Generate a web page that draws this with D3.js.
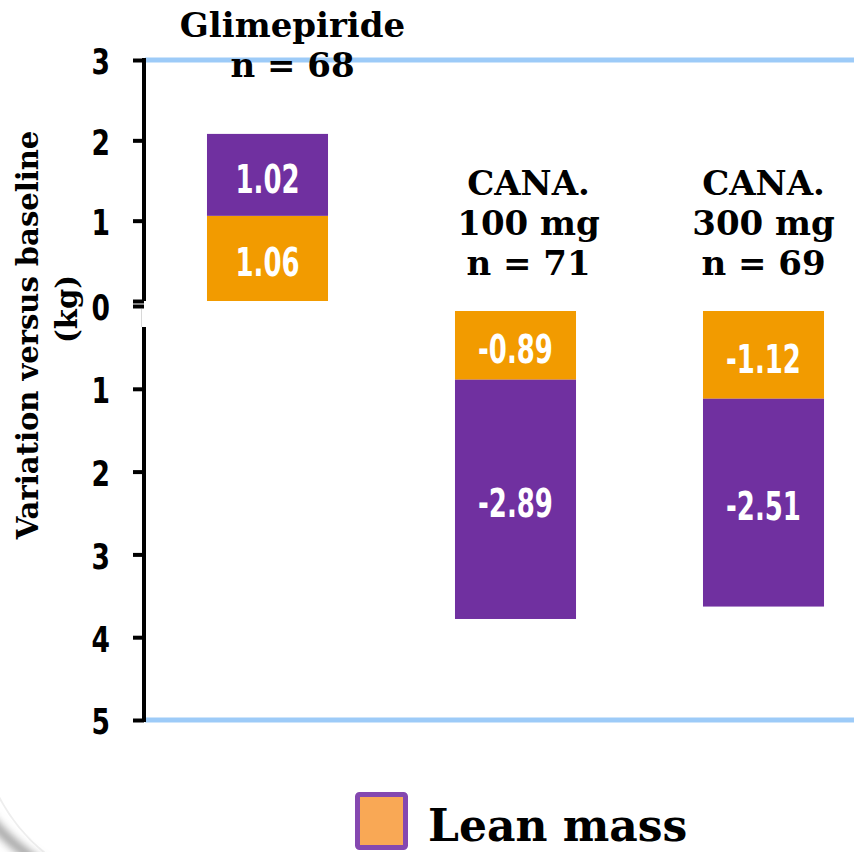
<!DOCTYPE html>
<html>
<head>
<meta charset="utf-8">
<script src="https://cdn.jsdelivr.net/npm/d3@7"></script>
<style>
  html, body { margin: 0; padding: 0; background: #fff; }
  svg { display: block; }
  .num { font-family: "Liberation Sans Narrow", "DejaVu Sans Condensed", "Roboto", sans-serif; font-weight: bold; }
  .serif { font-family: "DejaVu Serif", "Liberation Serif", serif; font-weight: bold; }
</style>
</head>
<body>
<svg id="chart" width="854" height="852"></svg>
<script>
// ---- data ----
const categories = ["Glimepiride", "CANA. 100 mg", "CANA. 300 mg"];
const categoryLines = [
  ["Glimepiride", "n = 68"],
  ["CANA.", "100 mg", "n = 71"],
  ["CANA.", "300 mg", "n = 69"]
];
const leanMass = [1.06, -0.89, -1.12];
const fatMass = [1.02, -2.89, -2.51];
const upperTicks = [0, 1, 2, 3];
const lowerTicks = [0, -1, -2, -3, -4, -5];
const legendLabels = ["Lean mass"];

// ---- layout ----
const W = 854, H = 852;
const axisX = 144;
const colors = { lean: "#F29B00", fat: "#7030A0" };
const labelShift = { "Glimepiride": 25, "CANA. 100 mg": 13, "CANA. 300 mg": 0 };
const narrowValue = 0.74;   // horizontal squeeze for the bar values
const narrowTick = 0.82;    // horizontal squeeze for the tick numbers

const svg = d3.select("#chart");
const defs = svg.append("defs");

const shadow = defs.append("filter").attr("id", "lineShadow")
  .attr("x", "-5%").attr("y", "-200%").attr("width", "110%").attr("height", "500%");
shadow.append("feDropShadow").attr("dx", 0).attr("dy", 2).attr("stdDeviation", 1.6)
  .attr("flood-color", "#000").attr("flood-opacity", 0.35);

const blur = defs.append("filter").attr("id", "soft")
  .attr("x", "-50%").attr("y", "-50%").attr("width", "200%").attr("height", "200%");
blur.append("feGaussianBlur").attr("stdDeviation", 4);

// slide edge in the lower-left corner
svg.append("path")
  .attr("d", "M -20 745 Q 0 830 70 870")
  .attr("fill", "none").attr("stroke", "#eeeeee").attr("stroke-width", 2);
svg.append("path")
  .attr("d", "M -20 805 Q 5 845 60 875")
  .attr("fill", "none").attr("stroke", "#9a9a9a").attr("stroke-width", 9)
  .attr("filter", "url(#soft)");

const x = d3.scaleBand().domain(categories)
  .range([143, 888]).paddingInner(0.512).paddingOuter(0.258);
const yUp = d3.scaleLinear().domain([0, 3]).range([301, 60]);
const yDown = d3.scaleLinear().domain([0, -5]).range([306, 720]);

// guide lines at the ends of both scales
svg.append("line").attr("x1", axisX + 1).attr("x2", W)
  .attr("y1", yUp(3)).attr("y2", yUp(3))
  .attr("stroke", "#9DCBF8").attr("stroke-width", 5);
svg.append("line").attr("x1", axisX + 1).attr("x2", W)
  .attr("y1", yDown(-5)).attr("y2", yDown(-5))
  .attr("stroke", "#9DCBF8").attr("stroke-width", 5);

// ---- stacked bars ----
const rows = categories.map((c, i) => ({ cat: c, lean: leanMass[i], fat: fatMass[i] }));
const series = d3.stack().keys(["lean", "fat"]).offset(d3.stackOffsetDiverging)(rows);
const gap = 5;

const segs = [];
series.forEach(s => {
  s.forEach(d => {
    const v = d.data[s.key];
    const up = v >= 0;
    const sc = up ? yUp : yDown;
    const a = sc(d[0]), b = sc(d[1]);
    let top = Math.min(a, b);
    const bot = Math.max(a, b);
    if (!up) top = Math.max(top, yDown(0) + gap);
    segs.push({ key: s.key, cat: d.data.cat, v, top, bot });
  });
});

const barG = svg.append("g");
barG.selectAll("rect").data(segs).join("rect")
  .attr("x", d => x(d.cat)).attr("width", x.bandwidth())
  .attr("y", d => d.top).attr("height", d => d.bot - d.top)
  .attr("fill", d => colors[d.key]);

barG.selectAll("text").data(segs).join("text")
  .attr("class", "num")
  .attr("transform", d =>
    `translate(${x(d.cat) + x.bandwidth() / 2},${(d.top + d.bot) / 2 + 4}) scale(${narrowValue},1)`)
  .attr("text-anchor", "middle").attr("dominant-baseline", "central")
  .attr("fill", "#fff").attr("font-size", 39)
  .text(d => d.v.toFixed(2));

// ---- axes ----
const upAxis = d3.axisLeft(yUp).tickValues(upperTicks)
  .tickFormat(d => d === 0 ? "" : d).tickSize(11).tickSizeOuter(0).tickPadding(24);
const gUp = svg.append("g").attr("transform", `translate(${axisX},0)`).call(upAxis);

const downAxis = d3.axisLeft(yDown).tickValues(lowerTicks)
  .tickFormat(d => Math.abs(d)).tickSize(11).tickSizeOuter(0).tickPadding(24);
const gDown = svg.append("g").attr("transform", `translate(${axisX},0)`).call(downAxis);
gDown.select(".domain").remove();
gDown.append("line").attr("x1", 0).attr("x2", 0)
  .attr("y1", yDown(0) + 21).attr("y2", yDown(-5) + 2)
  .attr("stroke", "#000").attr("stroke-width", 4);
gDown.append("line").attr("x1", -2.5).attr("x2", -2.5)
  .attr("y1", yDown(0) + 3).attr("y2", yDown(0) + 21)
  .attr("stroke", "#d8d8d8").attr("stroke-width", 1);

[gUp, gDown].forEach(g => {
  g.select(".domain").attr("stroke", "#000").attr("stroke-width", 4);
  g.selectAll(".tick line").attr("stroke", "#000").attr("stroke-width", 4);
  g.selectAll(".tick text").attr("class", "num").attr("font-size", 36)
    .attr("fill", "#000").attr("dy", "0.36em")
    .attr("x", 0)
    .attr("transform", `translate(-34,1) scale(${narrowTick},1)`);
});
gUp.select(".domain").attr("d", `M0,${yUp(0)}V${yUp(3) - 2}`);

// zero line
svg.append("line").attr("x1", 131).attr("x2", W + 2)
  .attr("y1", yUp(0)).attr("y2", yUp(0))
  .attr("stroke", "#000").attr("stroke-width", 6)
  .attr("filter", "url(#lineShadow)");

// ---- category labels ----
const catG = svg.append("g").attr("class", "serif");
categories.forEach((c, i) => {
  const lines = categoryLines[i];
  const positive = leanMass[i] >= 0;
  const firstBase = positive ? 37 : 195;
  const t = catG.append("text")
    .attr("text-anchor", "middle").attr("font-size", 34).attr("fill", "#000");
  lines.forEach((ln, j) => {
    t.append("tspan").attr("x", x(c) + x.bandwidth() / 2 + labelShift[c])
      .attr("y", firstBase + j * 40).text(ln);
  });
});

// ---- y axis title ----
const title = svg.append("g").attr("class", "serif").attr("fill", "#000");
title.append("text").attr("transform", "translate(38,335) rotate(-90)")
  .attr("text-anchor", "middle").attr("font-size", 29).text("Variation versus baseline");
title.append("text").attr("transform", "translate(77,309) rotate(-90)")
  .attr("text-anchor", "middle").attr("font-size", 29).text("(kg)");

// ---- legend ----
const leg = svg.append("g");
leg.append("rect").attr("x", 357.5).attr("y", 794.5).attr("width", 48).attr("height", 53)
  .attr("rx", 2).attr("fill", "#F9A855").attr("stroke", "#8548B0").attr("stroke-width", 5);
leg.append("text").attr("class", "serif").attr("x", 428).attr("y", 841)
  .attr("font-size", 44).attr("fill", "#000").text(legendLabels[0]);
</script>
</body>
</html>
